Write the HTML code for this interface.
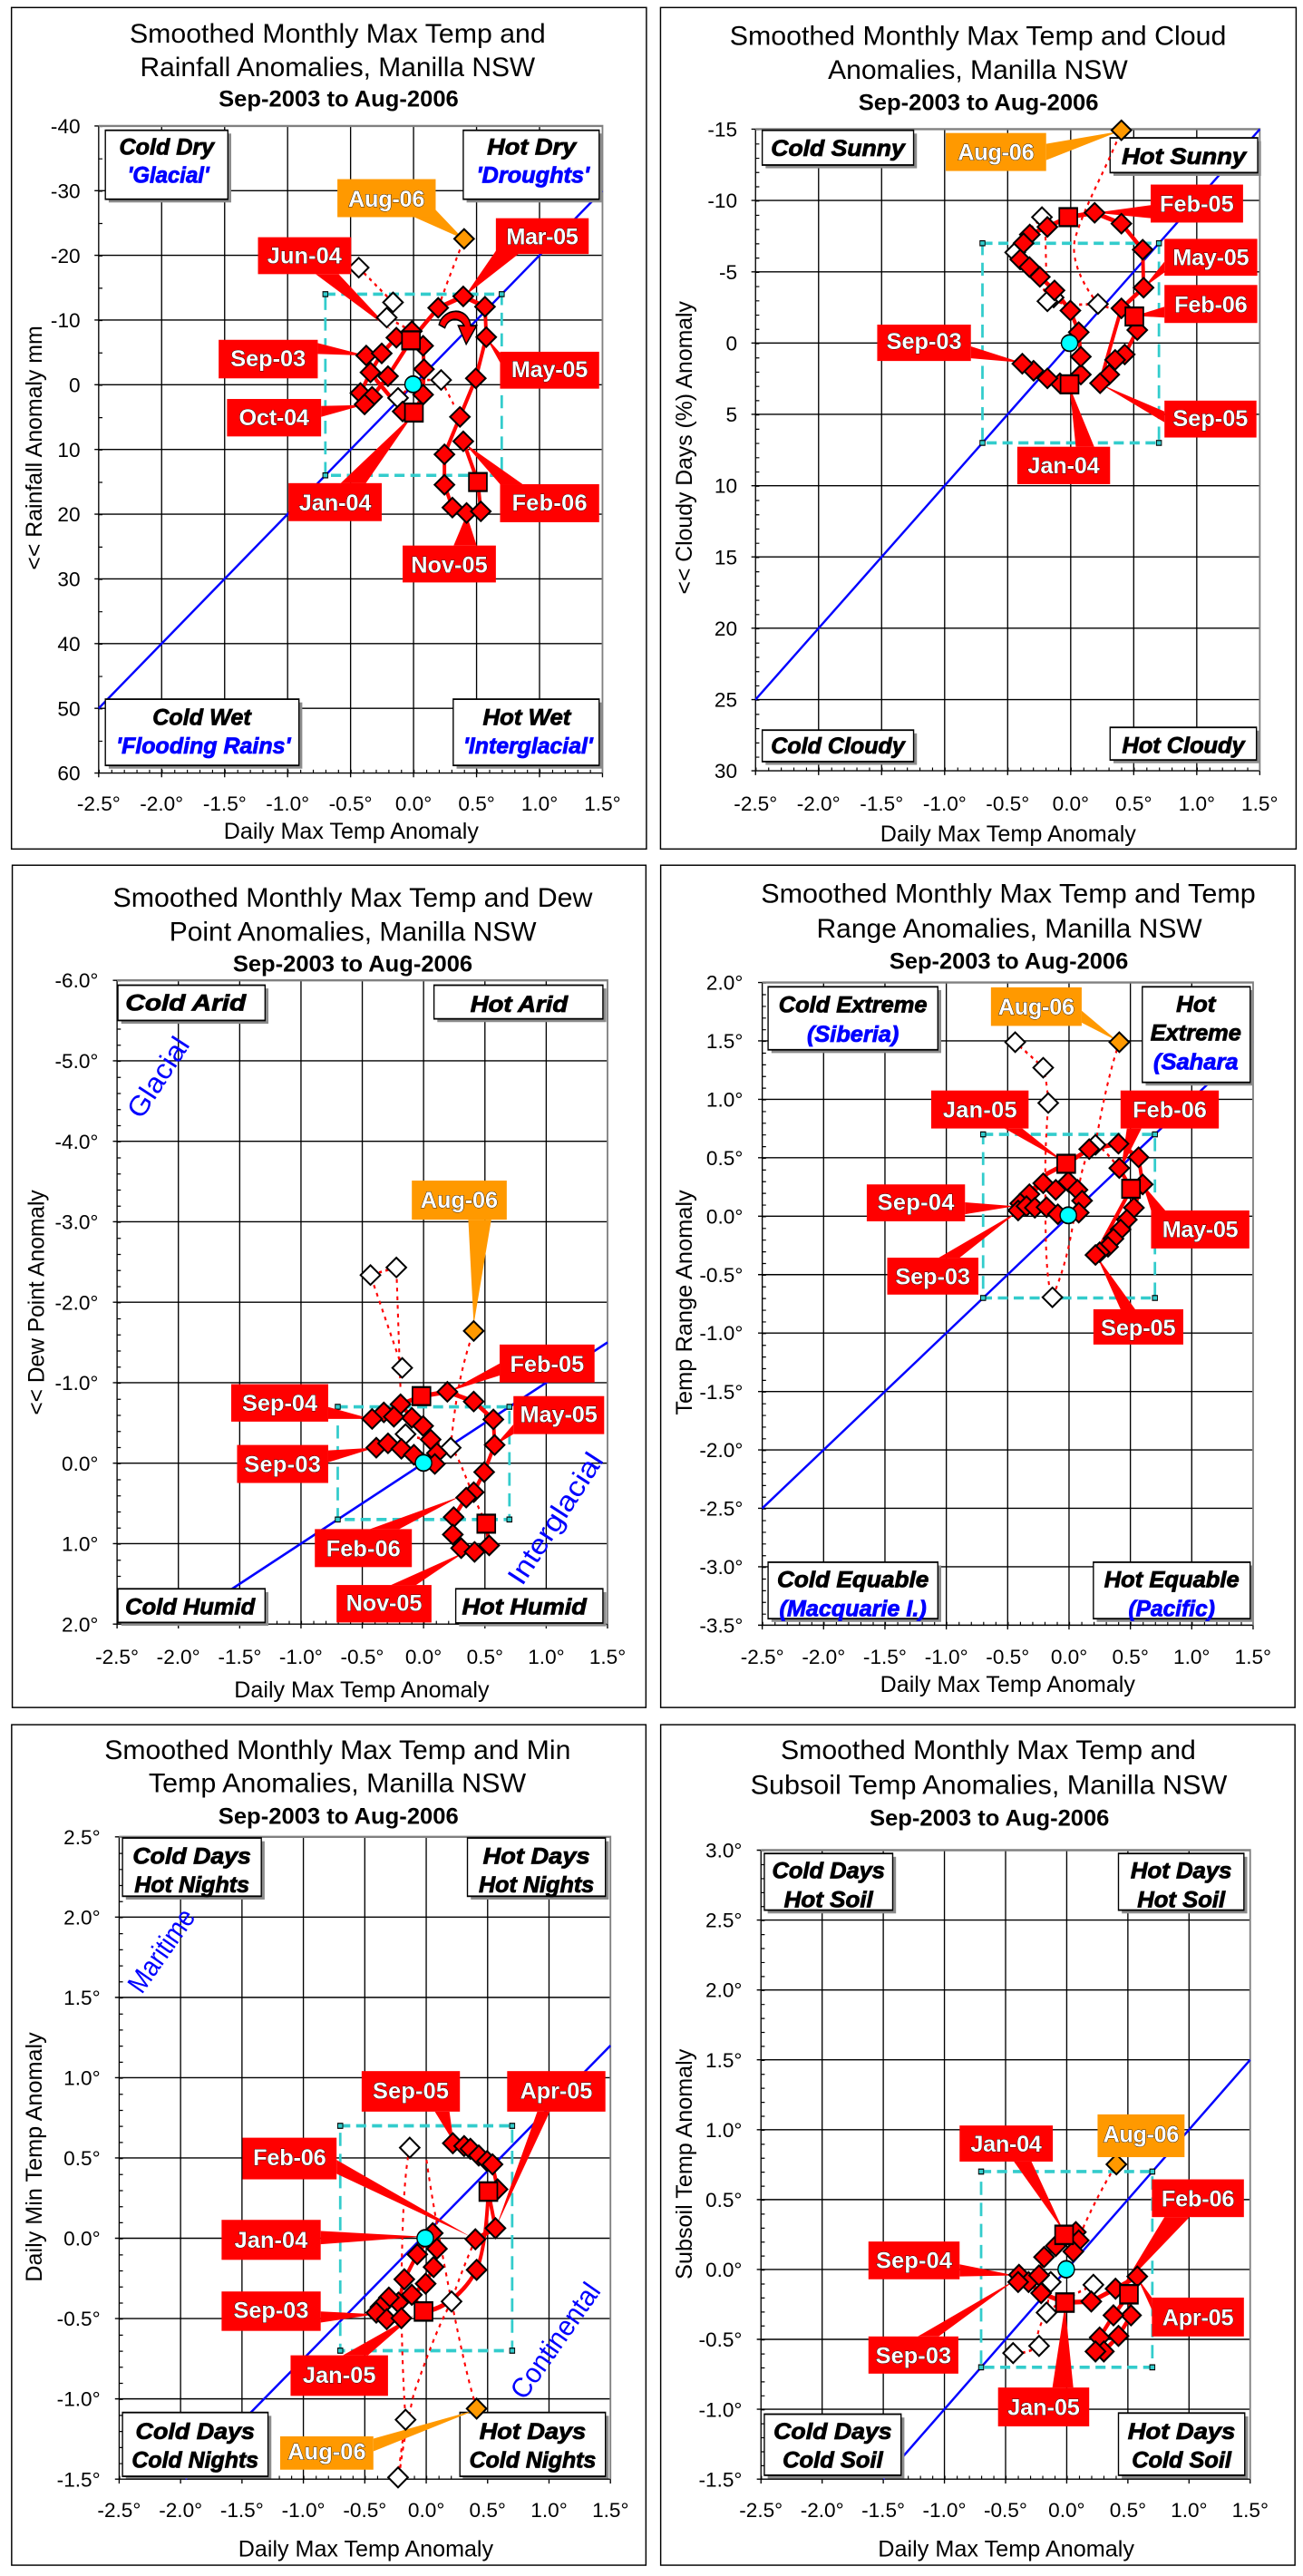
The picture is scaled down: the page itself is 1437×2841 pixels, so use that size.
<!DOCTYPE html>
<html><head><meta charset="utf-8"><title>Smoothed Monthly Anomalies, Manilla NSW</title>
<style>
html,body{margin:0;padding:0;background:#fff}
svg{display:block}
text{font-family:"Liberation Sans",Arial,sans-serif;fill:#000}
.t1{font-size:16.5px}
.t3{font-size:14px;font-weight:bold}
.tk{font-size:12.5px}
.ax{font-size:14px}
.q{font-size:14px;font-weight:bold;font-style:italic;stroke:#000;stroke-width:0.45}
.qb2{fill:#0000ff;stroke:#0000ff}
.c{font-size:14px;font-weight:bold;fill:#fff;stroke:#000;stroke-width:0.45;paint-order:stroke}
.bt{font-size:17px;fill:#0000ff}
.fr{fill:none;stroke:#000;stroke-width:0.8}
.gv{fill:none;stroke:#000;stroke-width:2.9}
.gh{fill:none;stroke:#000;stroke-width:2.3}
.gb{fill:none;stroke:#808080;stroke-width:4}
.mt{stroke:#000;fill:none}
.bl{stroke:#0000ff;stroke-width:4.6;fill:none}
.cb{fill:none;stroke:#33cccc;stroke-width:6;stroke-dasharray:24 14}
.cs{fill:#33cccc;stroke:#000;stroke-width:2}
.qs{fill:#8c8c8c}
.qr{fill:#fff;stroke:#000;stroke-width:3}
.th{fill:none;stroke:#f00;stroke-width:8.5;stroke-linejoin:round;stroke-linecap:round}
.dt{fill:none;stroke:#f00;stroke-width:4.5;stroke-dasharray:7 9}
.pr{fill:#f00}
.po{fill:#ff9900}
.r{fill:#f00;stroke:#000;stroke-width:3.8}
.w{fill:#fff;stroke:#000;stroke-width:3.8}
.o{fill:#ff9900;stroke:#000;stroke-width:3.8}
.cy{fill:#00ffff;stroke:#000;stroke-width:3}
</style></head>
<body>
<svg width="1437" height="2841" viewBox="0 0 795 1571.7" preserveAspectRatio="none" xmlns="http://www.w3.org/2000/svg" xmlns:xlink="http://www.w3.org/1999/xlink">
<defs>
<path id="D" d="M0 -18L23.5 0L0 18L-23.5 0Z"/>
<rect id="S" x="-21.5" y="-16.6" width="43" height="33.2"/>
<ellipse id="C" rx="19.6" ry="15.1"/>
</defs>
<rect x="0" y="0" width="795" height="1571.7" fill="#fff"/>

<!-- Frames -->
<rect class="fr" x="7" y="4.6" width="387.4" height="513.4"/>
<rect class="fr" x="403" y="4.6" width="387.8" height="513.4"/>
<rect class="fr" x="7.5" y="527.9" width="386.6" height="513.9"/>
<rect class="fr" x="403.1" y="527.9" width="387" height="513.9"/>
<rect class="fr" x="7.1" y="1052.3" width="387" height="512.8"/>
<rect class="fr" x="403.1" y="1052.3" width="387" height="512.8"/>

<!-- ============ PANEL 1 ============ -->
<g transform="translate(0,0) scale(0.2551,0.3312)">
<line class="mt" x1="236" y1="1421" x2="1441" y2="1421" stroke-width="6" stroke-dasharray="2.5 27.625"/>
<line class="mt" x1="240.5" y1="232" x2="240.5" y2="1424" stroke-width="9" stroke-dasharray="2 57.6"/>
<path class="gv" d="M386.6 232V1432M537.3 232V1432M687.9 232V1432M838.5 232V1432M989.1 232V1432M1139.8 232V1432M1290.4 232V1432M1441 1424V1432M236 232V1432"/>
<path class="gh" d="M226 351.2H1441M226 470.4H1441M226 589.6H1441M226 708.8H1441M226 828H1441M226 947.2H1441M226 1066.4H1441M226 1185.6H1441M226 1304.8H1441M226 1424H1441M226 232H236"/>
<path class="gb" d="M236 232H1441V1424"/>
<line class="bl" x1="236" y1="1304.8" x2="1441" y2="351.2"/>
<rect class="cb" x="778.2" y="541.9" width="421.8" height="333.8"/>
<rect class="cs" x="772.2" y="537.4" width="12" height="9"/><rect class="cs" x="1194" y="537.4" width="12" height="9"/><rect class="cs" x="772.2" y="871.2" width="12" height="9"/><rect class="cs" x="1194" y="871.2" width="12" height="9"/>
<rect class="qs" x="260" y="246" width="293" height="127"/><rect class="qr" x="252" y="240" width="293" height="127"/>
<rect class="qs" x="1116" y="246" width="325" height="127"/><rect class="qr" x="1108" y="240" width="325" height="127"/>
<rect class="qs" x="260" y="1294" width="463" height="122"/><rect class="qr" x="252" y="1288" width="463" height="122"/>
<rect class="qs" x="1092" y="1294" width="349" height="122"/><rect class="qr" x="1084" y="1288" width="349" height="122"/>
<path class="dt" d="M858 493L905 530L940 557L925 585L985 610M1048 567L1070 520L1110 440M1055 700L1085 745M952 733L1000 700L1055 700"/>
<path class="th" d="M876 655L900 700L963 758L990 760L1012 727L1014 680L1012 637L985 610L948 622L913 651L886 686L862 724L872 745L890 731L928 693L983 627L1048 567L1108 546L1160 565L1163 621L1138 697L1100 768L1063 837L1063 893L1082 935L1116 945L1150 942L1143 888L1108 813"/>
<path d="M1050 598C1060 568 1118 562 1126 600L1140 600L1115 634L1096 600L1110 600C1100 584 1072 584 1064 604Z" fill="#f00" stroke="#000" stroke-width="3"/>
<polygon class="po" points="985,398 1040,385 1108,440"/>
<polygon class="pr" points="1195,452 1240,468 1112,545"/>
<polygon class="pr" points="755,505 810,505 935,608"/>
<polygon class="pr" points="760,632 760,652 876,655"/>
<polygon class="pr" points="1196,650 1196,668 1162,621"/>
<polygon class="pr" points="768,748 768,768 870,746"/>
<polygon class="pr" points="815,890 875,890 990,762"/>
<polygon class="pr" points="1196,892 1250,892 1110,816"/>
<polygon class="pr" points="1085,1005 1140,1005 1116,948"/>
<g class="w"><use href="#D" x="858" y="493"/><use href="#D" x="940" y="557"/><use href="#D" x="925" y="585"/><use href="#D" x="1055" y="700"/><use href="#D" x="952" y="733"/></g>
<g class="r"><use href="#D" x="876" y="655"/><use href="#D" x="913" y="651"/><use href="#D" x="948" y="622"/><use href="#D" x="985" y="610"/><use href="#D" x="1012" y="637"/><use href="#D" x="1014" y="680"/><use href="#D" x="886" y="686"/><use href="#D" x="928" y="693"/><use href="#D" x="862" y="724"/><use href="#D" x="890" y="731"/><use href="#D" x="872" y="745"/><use href="#D" x="963" y="758"/><use href="#D" x="1012" y="727"/><use href="#D" x="1048" y="567"/><use href="#D" x="1108" y="546"/><use href="#D" x="1160" y="565"/><use href="#D" x="1163" y="621"/><use href="#D" x="1138" y="697"/><use href="#D" x="1100" y="768"/><use href="#D" x="1108" y="813"/><use href="#D" x="1063" y="837"/><use href="#D" x="1063" y="893"/><use href="#D" x="1082" y="935"/><use href="#D" x="1116" y="945"/><use href="#D" x="1150" y="942"/>
<use href="#S" x="983" y="627"/><use href="#S" x="990" y="760"/><use href="#S" x="1143" y="888"/></g>
<g class="o"><use href="#D" x="1110" y="440"/></g>
<g class="cy"><use href="#C" x="988" y="708"/></g>
<rect class="po" x="807" y="330" width="235" height="70"/>
<rect class="pr" x="1186" y="402" width="222" height="66"/>
<rect class="pr" x="617" y="437" width="223" height="68"/>
<rect class="pr" x="523" y="626" width="237" height="71"/>
<rect class="pr" x="1196" y="648" width="237" height="68"/>
<rect class="pr" x="543" y="735" width="225" height="69"/>
<rect class="pr" x="690" y="890" width="223" height="70"/>
<rect class="pr" x="1196" y="892" width="237" height="70"/>
<rect class="pr" x="963" y="1005" width="223" height="68"/>
</g>

<!-- ============ PANEL 2 ============ -->
<g transform="translate(396.7,0) scale(0.2551,0.3312)">
<line class="mt" x1="252" y1="1417" x2="1458" y2="1417" stroke-width="6" stroke-dasharray="2.5 27.65"/>
<line class="mt" x1="256.5" y1="238" x2="256.5" y2="1420" stroke-width="9" stroke-dasharray="2 24.27"/>
<path class="gv" d="M402.75 238V1428M553.5 238V1428M704.25 238V1428M855 238V1428M1005.75 238V1428M1156.5 238V1428M1307.25 238V1428M1458 1420V1428M252 238V1428"/>
<path class="gh" d="M242 369.3H1458M242 500.7H1458M242 632H1458M242 763.3H1458M242 894.7H1458M242 1026H1458M242 1157.3H1458M242 1288.7H1458M242 1420H1458M242 238H252"/>
<path class="gb" d="M252 238H1458V1420"/>
<line class="bl" x1="252" y1="1288.7" x2="1458" y2="238"/>
<rect class="cb" x="794.7" y="448.1" width="422.1" height="367.8"/>
<rect class="cs" x="788.7" y="443.6" width="12" height="9"/><rect class="cs" x="1210.8" y="443.6" width="12" height="9"/><rect class="cs" x="788.7" y="811.4" width="12" height="9"/><rect class="cs" x="1210.8" y="811.4" width="12" height="9"/>
<rect class="qs" x="276" y="246" width="362" height="64"/><rect class="qr" x="268" y="240" width="362" height="64"/>
<rect class="qs" x="1108" y="260" width="353" height="64"/><rect class="qr" x="1100" y="254" width="353" height="64"/>
<rect class="qs" x="276" y="1351" width="362" height="58"/><rect class="qr" x="268" y="1345" width="362" height="58"/>
<rect class="qs" x="1108" y="1346" width="350" height="60"/><rect class="qr" x="1100" y="1340" width="350" height="60"/>
<path class="dt" d="M1158 583L1071 560L1000 562L958 552L920 510L873 465L905 425L937 400M1071 560C1030 520 1000 470 1020 430C1045 370 1085 320 1127 240M945 420L948 530"/>
<path class="th" d="M890 670L917 683L950 697L980 706L1003 708L1030 690L1030 657L1025 612L1005 572L967 535L932 510L907 492L885 478L893 448L908 432L950 418L1000 400L1063 392L1127 412L1178 460L1180 530L1127 568L1100 640L1076 706L1098 690L1112 663L1135 653L1165 608L1158 583"/>
<polygon class="po" points="947,265 947,295 1122,242"/>
<polygon class="pr" points="1197,378 1197,402 1065,392"/>
<polygon class="pr" points="1230,482 1230,502 1180,530"/>
<polygon class="pr" points="1230,565 1230,585 1160,582"/>
<polygon class="pr" points="767,638 767,660 888,668"/>
<polygon class="pr" points="1230,758 1230,778 1078,708"/>
<polygon class="pr" points="1018,823 1062,823 1003,712"/>
<g class="w"><use href="#D" x="937" y="400"/><use href="#D" x="873" y="465"/><use href="#D" x="965" y="548"/><use href="#D" x="950" y="555"/><use href="#D" x="1071" y="560"/></g>
<g class="r"><use href="#D" x="950" y="418"/><use href="#D" x="1063" y="392"/><use href="#D" x="1127" y="412"/><use href="#D" x="1178" y="460"/><use href="#D" x="1180" y="530"/><use href="#D" x="1127" y="568"/><use href="#D" x="1165" y="608"/><use href="#D" x="1135" y="653"/><use href="#D" x="1112" y="663"/><use href="#D" x="1098" y="690"/><use href="#D" x="1076" y="706"/><use href="#D" x="1030" y="690"/><use href="#D" x="1030" y="657"/><use href="#D" x="1025" y="612"/><use href="#D" x="1005" y="572"/><use href="#D" x="980" y="706"/><use href="#D" x="950" y="697"/><use href="#D" x="917" y="683"/><use href="#D" x="890" y="670"/><use href="#D" x="908" y="432"/><use href="#D" x="893" y="448"/><use href="#D" x="885" y="478"/><use href="#D" x="907" y="492"/><use href="#D" x="932" y="510"/><use href="#D" x="967" y="535"/>
<use href="#S" x="1000" y="400"/><use href="#S" x="1158" y="583"/><use href="#S" x="1003" y="708"/></g>
<g class="o"><use href="#D" x="1127" y="240"/></g>
<g class="cy"><use href="#C" x="1003" y="632"/></g>
<rect class="po" x="707" y="245" width="240" height="70"/>
<rect class="pr" x="1197" y="340" width="221" height="70"/>
<rect class="pr" x="1230" y="440" width="222" height="68"/>
<rect class="pr" x="1230" y="525" width="222" height="70"/>
<rect class="pr" x="543" y="598" width="224" height="67"/>
<rect class="pr" x="1230" y="738" width="220" height="68"/>
<rect class="pr" x="878" y="823" width="222" height="69"/>
</g>

<!-- ============ PANEL 3 ============ -->
<g transform="translate(0,517.3) scale(0.2551,0.3312)">
<line class="mt" x1="280" y1="1427" x2="1453" y2="1427" stroke-width="6" stroke-dasharray="2.5 26.825"/>
<line class="mt" x1="284.5" y1="244" x2="284.5" y2="1430" stroke-width="9" stroke-dasharray="2 27.65"/>
<path class="gv" d="M426.6 244V1438M573.3 244V1438M719.9 244V1438M866.5 244V1438M1013.1 244V1438M1159.8 244V1438M1306.4 244V1438M1453 1430V1438M280 244V1438"/>
<path class="gh" d="M270 392.25H1453M270 540.5H1453M270 688.75H1453M270 837H1453M270 985.25H1453M270 1133.5H1453M270 1281.75H1453M270 1430H1453M270 244H280"/>
<path class="gb" d="M280 244H1453V1430"/>
<line class="bl" x1="426.6" y1="1430" x2="1453" y2="911.1"/>
<rect class="cb" x="807.8" y="1029.7" width="410.6" height="207.6"/>
<rect class="cs" x="801.8" y="1025.2" width="12" height="9"/><rect class="cs" x="1212.4" y="1025.2" width="12" height="9"/><rect class="cs" x="801.8" y="1232.8" width="12" height="9"/><rect class="cs" x="1212.4" y="1232.8" width="12" height="9"/>
<rect class="qs" x="290" y="259" width="352" height="65"/><rect class="qr" x="282" y="253" width="352" height="65"/>
<rect class="qs" x="1046" y="259" width="404" height="62"/><rect class="qr" x="1038" y="253" width="404" height="62"/>
<rect class="qs" x="290" y="1371" width="352" height="62"/><rect class="qr" x="282" y="1365" width="352" height="62"/>
<rect class="qs" x="1098" y="1371" width="352" height="63"/><rect class="qr" x="1090" y="1365" width="352" height="63"/>
<path class="dt" d="M1163 1245C1120 1180 1100 1120 1078 1105C1050 1095 1010 1090 970 1080M962 958L886 787L948 773L958 1000M1078 1105C1090 1000 1110 940 1133 890"/>
<path class="th" d="M900 1105L928 1097L960 1107L990 1118L1040 1135L1045 1115L1030 1090L1012 1065L985 1050L958 1025L942 1048L918 1040L890 1052L960 1025L1008 1010L1070 1002L1133 1020L1180 1053L1183 1100L1158 1150L1133 1187L1115 1197L1085 1233L1083 1265L1103 1290L1135 1297L1170 1285L1163 1245"/>
<polygon class="po" points="1120,685 1175,685 1133,878"/>
<polygon class="pr" points="1195,950 1195,972 1072,1002"/>
<polygon class="pr" points="785,1030 785,1052 888,1052"/>
<polygon class="pr" points="1228,1062 1228,1080 1185,1100"/>
<polygon class="pr" points="785,1110 785,1132 897,1105"/>
<polygon class="pr" points="885,1255 955,1255 1100,1195"/>
<polygon class="pr" points="935,1358 995,1358 1112,1297"/>
<g class="w"><use href="#D" x="886" y="787"/><use href="#D" x="948" y="773"/><use href="#D" x="962" y="958"/><use href="#D" x="970" y="1080"/><use href="#D" x="1078" y="1105"/></g>
<g class="r"><use href="#D" x="1070" y="1002"/><use href="#D" x="1133" y="1020"/><use href="#D" x="1180" y="1053"/><use href="#D" x="1183" y="1100"/><use href="#D" x="1158" y="1150"/><use href="#D" x="1133" y="1187"/><use href="#D" x="1115" y="1197"/><use href="#D" x="1085" y="1233"/><use href="#D" x="1083" y="1265"/><use href="#D" x="1103" y="1290"/><use href="#D" x="1135" y="1297"/><use href="#D" x="1170" y="1285"/><use href="#D" x="958" y="1025"/><use href="#D" x="985" y="1050"/><use href="#D" x="1012" y="1065"/><use href="#D" x="1030" y="1090"/><use href="#D" x="1045" y="1115"/><use href="#D" x="1040" y="1135"/><use href="#D" x="918" y="1040"/><use href="#D" x="890" y="1052"/><use href="#D" x="942" y="1048"/><use href="#D" x="900" y="1105"/><use href="#D" x="928" y="1097"/><use href="#D" x="960" y="1107"/><use href="#D" x="990" y="1118"/>
<use href="#S" x="1008" y="1010"/><use href="#S" x="1163" y="1245"/></g>
<g class="o"><use href="#D" x="1133" y="890"/></g>
<g class="cy"><use href="#C" x="1013" y="1133"/></g>
<rect class="po" x="985" y="613" width="227" height="72"/>
<rect class="pr" x="1195" y="915" width="227" height="70"/>
<rect class="pr" x="553" y="988" width="232" height="69"/>
<rect class="pr" x="1228" y="1010" width="217" height="70"/>
<rect class="pr" x="567" y="1100" width="218" height="70"/>
<rect class="pr" x="753" y="1255" width="232" height="70"/>
<rect class="pr" x="805" y="1358" width="227" height="69"/>
</g>

<!-- ============ PANEL 4 ============ -->
<g transform="translate(396.7,517.3) scale(0.2551,0.3312)">
<line class="mt" x1="268" y1="1429" x2="1442" y2="1429" stroke-width="6" stroke-dasharray="2.5 26.85"/>
<line class="mt" x1="272.5" y1="248" x2="272.5" y2="1432" stroke-width="9" stroke-dasharray="2 19.53"/>
<path class="gv" d="M414.75 248V1440M561.5 248V1440M708.25 248V1440M855 248V1440M1001.75 248V1440M1148.5 248V1440M1295.25 248V1440M1442 1432V1440M268 248V1440"/>
<path class="gh" d="M258 355.6H1442M258 463.3H1442M258 570.9H1442M258 678.5H1442M258 786.2H1442M258 893.8H1442M258 1001.5H1442M258 1109.1H1442M258 1216.7H1442M258 1324.4H1442M258 1432H1442M258 248H268"/>
<path class="gb" d="M268 248H1442V1432"/>
<line class="bl" x1="268" y1="1216.7" x2="1442" y2="355.6"/>
<rect class="cb" x="796.3" y="527.8" width="410.9" height="301.4"/>
<rect class="cs" x="790.3" y="523.3" width="12" height="9"/><rect class="cs" x="1201.2" y="523.3" width="12" height="9"/><rect class="cs" x="790.3" y="824.7" width="12" height="9"/><rect class="cs" x="1201.2" y="824.7" width="12" height="9"/>
<rect class="qs" x="290" y="262" width="406" height="116"/><rect class="qr" x="282" y="256" width="406" height="116"/>
<rect class="qs" x="1185" y="262" width="258" height="176"/><rect class="qr" x="1177" y="256" width="258" height="176"/>
<rect class="qs" x="290" y="1322" width="406" height="104"/><rect class="qr" x="282" y="1316" width="406" height="104"/>
<rect class="qs" x="1068" y="1322" width="375" height="104"/><rect class="qr" x="1060" y="1316" width="375" height="104"/>
<path class="dt" d="M1122 590C1100 570 1080 550 1065 547C1040 560 1030 600 1020 650C1010 700 1000 760 962 828C945 800 945 700 945 600C945 540 950 500 952 470C950 440 945 420 940 405C920 390 890 370 873 358M1065 547C1075 500 1095 420 1122 358"/>
<path class="th" d="M880 668L900 660L920 663L948 662L975 675L1025 672L1033 650L1022 630L1000 615L970 630L940 618L907 638L885 655L950 600L995 582L1050 555L1120 545L1168 570L1178 620L1157 663L1140 685L1125 703L1108 720L1095 735L1075 745L1065 750L1150 628L1122 590"/>
<polygon class="po" points="1032,300 1032,322 1118,356"/>
<polygon class="pr" points="848,517 890,517 993,580"/>
<polygon class="pr" points="1140,517 1175,517 1126,592"/>
<polygon class="pr" points="753,653 753,675 872,660"/>
<polygon class="pr" points="1198,668 1232,668 1178,620"/>
<polygon class="pr" points="690,755 740,755 880,670"/>
<polygon class="pr" points="1125,850 1160,850 1068,752"/>
<g class="w"><use href="#D" x="873" y="358"/><use href="#D" x="940" y="405"/><use href="#D" x="952" y="470"/><use href="#D" x="1065" y="547"/><use href="#D" x="962" y="828"/></g>
<g class="r"><use href="#D" x="1050" y="555"/><use href="#D" x="1120" y="545"/><use href="#D" x="1168" y="570"/><use href="#D" x="1122" y="590"/><use href="#D" x="1178" y="620"/><use href="#D" x="1157" y="663"/><use href="#D" x="1140" y="685"/><use href="#D" x="1125" y="703"/><use href="#D" x="1108" y="720"/><use href="#D" x="1095" y="735"/><use href="#D" x="1075" y="745"/><use href="#D" x="1065" y="750"/><use href="#D" x="940" y="618"/><use href="#D" x="970" y="630"/><use href="#D" x="1000" y="615"/><use href="#D" x="1022" y="630"/><use href="#D" x="1033" y="650"/><use href="#D" x="1025" y="672"/><use href="#D" x="907" y="638"/><use href="#D" x="885" y="655"/><use href="#D" x="880" y="668"/><use href="#D" x="900" y="660"/><use href="#D" x="920" y="663"/><use href="#D" x="948" y="662"/><use href="#D" x="975" y="675"/>
<use href="#S" x="995" y="582"/><use href="#S" x="1150" y="628"/></g>
<g class="o"><use href="#D" x="1122" y="358"/></g>
<g class="cy"><use href="#C" x="1000" y="677"/></g>
<rect class="po" x="815" y="257" width="217" height="71"/>
<rect class="pr" x="672" y="447" width="233" height="70"/>
<rect class="pr" x="1125" y="447" width="235" height="70"/>
<rect class="pr" x="518" y="620" width="235" height="68"/>
<rect class="pr" x="1198" y="668" width="235" height="70"/>
<rect class="pr" x="567" y="755" width="218" height="68"/>
<rect class="pr" x="1060" y="850" width="215" height="65"/>
</g>

<!-- ============ PANEL 5 ============ -->
<g transform="translate(0,1040.1) scale(0.2551,0.3387)">
<line class="mt" x1="285" y1="1392" x2="1460" y2="1392" stroke-width="6" stroke-dasharray="2.5 26.875"/>
<line class="mt" x1="289.5" y1="238" x2="289.5" y2="1395" stroke-width="9" stroke-dasharray="2 26.925"/>
<path class="gv" d="M431.9 238V1403M578.75 238V1403M725.6 238V1403M872.5 238V1403M1019.4 238V1403M1166.25 238V1403M1313.1 238V1403M1460 1395V1403M285 238V1403"/>
<path class="gh" d="M275 382.6H1460M275 527.25H1460M275 671.9H1460M275 816.5H1460M275 961.1H1460M275 1105.75H1460M275 1250.4H1460M275 1395H1460M275 238H285"/>
<path class="gb" d="M285 238H1460V1395"/>
<line class="bl" x1="443.6" y1="1395" x2="1460" y2="614"/>
<rect class="cb" x="813.8" y="758.6" width="411.2" height="405"/>
<rect class="cs" x="807.8" y="754.1" width="12" height="9"/><rect class="cs" x="1219" y="754.1" width="12" height="9"/><rect class="cs" x="807.8" y="1159.1" width="12" height="9"/><rect class="cs" x="1219" y="1159.1" width="12" height="9"/>
<rect class="qs" x="301" y="246" width="332" height="105"/><rect class="qr" x="293" y="240" width="332" height="105"/>
<rect class="qs" x="1126" y="246" width="330" height="105"/><rect class="qr" x="1118" y="240" width="330" height="105"/>
<rect class="qs" x="301" y="1281" width="348" height="113"/><rect class="qr" x="293" y="1275" width="348" height="115"/>
<rect class="qs" x="1108" y="1281" width="348" height="113"/><rect class="qr" x="1100" y="1275" width="348" height="115"/>
<path class="dt" d="M1137 963C1110 1010 1090 1050 1080 1075C1100 1150 1120 1220 1140 1268M980 798C965 850 962 950 960 1050C960 1150 965 1230 970 1288C962 1330 955 1370 952 1392M1020 820C1035 900 1060 1000 1080 1075M1080 1075C1040 1130 1010 1200 990 1240C975 1290 960 1350 955 1390"/>
<path class="th" d="M900 1095L925 1107L960 1105L953 1077L967 1035L998 990L1035 952L1045 980L1037 1013L1018 1043L985 1063L1013 1093C1060 1090 1110 1060 1140 1018C1160 980 1165 920 1168 877L1190 873L1178 828L1165 822L1145 812L1125 800L1110 795L1083 790M1168 877L1185 943L1137 963"/>
<polygon class="pr" points="1040,733 1075,733 1085,788"/>
<polygon class="pr" points="1285,733 1315,733 1187,940"/>
<polygon class="pr" points="805,820 805,845 1125,958"/>
<polygon class="pr" points="767,948 767,972 1010,958"/>
<polygon class="pr" points="767,1093 767,1113 900,1098"/>
<polygon class="pr" points="820,1172 880,1172 990,1100"/>
<polygon class="po" points="893,1322 893,1345 1140,1270"/>
<g class="w"><use href="#D" x="980" y="798"/><use href="#D" x="970" y="1288"/><use href="#D" x="952" y="1392"/><use href="#D" x="1080" y="1075"/></g>
<g class="r"><use href="#D" x="1083" y="790"/><use href="#D" x="1110" y="795"/><use href="#D" x="1125" y="800"/><use href="#D" x="1145" y="812"/><use href="#D" x="1165" y="822"/><use href="#D" x="1178" y="828"/><use href="#D" x="1190" y="873"/><use href="#D" x="1185" y="943"/><use href="#D" x="1137" y="963"/><use href="#D" x="1140" y="1018"/><use href="#D" x="1035" y="952"/><use href="#D" x="1045" y="980"/><use href="#D" x="1037" y="1013"/><use href="#D" x="1018" y="1043"/><use href="#D" x="998" y="990"/><use href="#D" x="967" y="1035"/><use href="#D" x="985" y="1063"/><use href="#D" x="953" y="1077"/><use href="#D" x="930" y="1068"/><use href="#D" x="910" y="1085"/><use href="#D" x="900" y="1095"/><use href="#D" x="925" y="1107"/><use href="#D" x="960" y="1105"/>
<use href="#S" x="1168" y="877"/><use href="#S" x="1013" y="1093"/></g>
<g class="o"><use href="#D" x="1140" y="1268"/></g>
<g class="cy"><use href="#C" x="1017" y="961"/></g>
<rect class="pr" x="865" y="660" width="235" height="73"/>
<rect class="pr" x="1213" y="660" width="235" height="73"/>
<rect class="pr" x="580" y="780" width="225" height="75"/>
<rect class="pr" x="530" y="928" width="237" height="72"/>
<rect class="pr" x="530" y="1057" width="237" height="71"/>
<rect class="pr" x="695" y="1172" width="233" height="73"/>
<rect class="po" x="670" y="1318" width="223" height="60"/>
</g>

<!-- ============ PANEL 6 ============ -->
<g transform="translate(396.7,1040.1) scale(0.2551,0.3387)">
<line class="mt" x1="265" y1="1392" x2="1435" y2="1392" stroke-width="6" stroke-dasharray="2.5 26.75"/>
<line class="mt" x1="269.5" y1="262" x2="269.5" y2="1395" stroke-width="9" stroke-dasharray="2 23.18"/>
<path class="gv" d="M411.25 262V1403M557.5 262V1403M703.75 262V1403M850 262V1403M996.25 262V1403M1142.5 262V1403M1288.75 262V1403M1435 1395V1403M265 262V1403"/>
<path class="gh" d="M255 387.9H1435M255 513.8H1435M255 639.7H1435M255 765.6H1435M255 891.5H1435M255 1017.3H1435M255 1143.2H1435M255 1269.1H1435M255 1395H1435M255 262H265"/>
<path class="gb" d="M265 262H1435V1395"/>
<line class="bl" x1="557.5" y1="1395" x2="1435" y2="639.6"/>
<rect class="cb" x="791.5" y="841" width="409.5" height="352.6"/>
<rect class="cs" x="785.5" y="836.5" width="12" height="9"/><rect class="cs" x="1195" y="836.5" width="12" height="9"/><rect class="cs" x="785.5" y="1189.1" width="12" height="9"/><rect class="cs" x="1195" y="1189.1" width="12" height="9"/>
<rect class="qs" x="281" y="274" width="307" height="102"/><rect class="qr" x="273" y="268" width="307" height="102"/>
<rect class="qs" x="1128" y="274" width="300" height="102"/><rect class="qr" x="1120" y="268" width="300" height="102"/>
<rect class="qs" x="281" y="1284" width="327" height="110"/><rect class="qr" x="273" y="1278" width="327" height="110"/>
<rect class="qs" x="1128" y="1282" width="302" height="112"/><rect class="qr" x="1120" y="1276" width="302" height="112"/>
<path class="dt" d="M1012 985C1040 930 1080 870 1115 828M1060 1045C1020 1060 980 1075 948 1095C930 1120 920 1140 930 1155C900 1170 880 1168 868 1168M958 1040L948 1095"/>
<path class="th" d="M880 1040L905 1040L935 1060L992 1077L1055 1075L1113 1052L1165 1030M1145 1062L1150 1100L1120 1137L1085 1165L1065 1165L1075 1140L1108 1100L1145 1062M882 1027L930 1028L942 995L970 975L990 955L1018 950L1025 965L1012 985"/>
<polygon class="pr" points="870,823 912,823 990,950"/>
<polygon class="pr" points="1230,923 1290,923 1128,1050"/>
<polygon class="pr" points="740,1008 740,1030 872,1028"/>
<polygon class="pr" points="1200,1068 1200,1090 1165,1032"/>
<polygon class="pr" points="640,1138 690,1138 876,1035"/>
<polygon class="pr" points="962,1230 1012,1230 992,1082"/>
<g class="w"><use href="#D" x="868" y="1168"/><use href="#D" x="930" y="1155"/><use href="#D" x="948" y="1095"/><use href="#D" x="958" y="1040"/><use href="#D" x="1060" y="1045"/></g>
<g class="r"><use href="#D" x="1018" y="950"/><use href="#D" x="1025" y="965"/><use href="#D" x="1012" y="985"/><use href="#D" x="970" y="975"/><use href="#D" x="942" y="995"/><use href="#D" x="882" y="1027"/><use href="#D" x="905" y="1040"/><use href="#D" x="930" y="1028"/><use href="#D" x="935" y="1060"/><use href="#D" x="880" y="1040"/><use href="#D" x="1055" y="1075"/><use href="#D" x="1113" y="1052"/><use href="#D" x="1165" y="1030"/><use href="#D" x="1150" y="1100"/><use href="#D" x="1108" y="1100"/><use href="#D" x="1120" y="1137"/><use href="#D" x="1075" y="1140"/><use href="#D" x="1085" y="1165"/><use href="#D" x="1065" y="1165"/>
<use href="#S" x="990" y="955"/><use href="#S" x="992" y="1077"/><use href="#S" x="1145" y="1062"/></g>
<g class="o"><use href="#D" x="1115" y="828"/></g>
<g class="cy"><use href="#C" x="995" y="1017"/></g>
<rect class="pr" x="740" y="758" width="223" height="65"/>
<rect class="po" x="1070" y="738" width="208" height="77"/>
<rect class="pr" x="1200" y="855" width="220" height="68"/>
<rect class="pr" x="522" y="967" width="218" height="68"/>
<rect class="pr" x="1200" y="1068" width="220" height="70"/>
<rect class="pr" x="522" y="1138" width="215" height="67"/>
<rect class="pr" x="832" y="1230" width="218" height="70"/>
</g>

<!-- ================= TEXT ================= -->
<g text-anchor="middle">
<!-- Panel 1 -->
<text class="t1" x="206" y="25.9" textLength="253.8" lengthAdjust="spacingAndGlyphs">Smoothed Monthly Max Temp and</text>
<text class="t1" x="206" y="46.4" textLength="241" lengthAdjust="spacingAndGlyphs">Rainfall Anomalies, Manilla NSW</text>
<text class="t3" x="206.6" y="65" textLength="146.4" lengthAdjust="spacingAndGlyphs">Sep-2003 to Aug-2006</text>
<text class="ax" x="214.3" y="511.7" textLength="155.5" lengthAdjust="spacingAndGlyphs">Daily Max Temp Anomaly</text>
<text class="ax" transform="translate(25.4,273.3) rotate(-90)" textLength="149" lengthAdjust="spacingAndGlyphs">&lt;&lt; Rainfall Anomaly mm</text>
<g class="tk"><text x="60.2" y="494.7">-2.5°</text><text x="98.6" y="494.7">-2.0°</text><text x="137.1" y="494.7">-1.5°</text><text x="175.5" y="494.7">-1.0°</text><text x="213.9" y="494.7">-0.5°</text><text x="252.3" y="494.7">0.0°</text><text x="290.8" y="494.7">0.5°</text><text x="329.2" y="494.7">1.0°</text><text x="367.6" y="494.7">1.5°</text></g>
<g class="tk" text-anchor="end"><text x="49" y="81.3">-40</text><text x="49" y="120.8">-30</text><text x="49" y="160.3">-20</text><text x="49" y="199.8">-10</text><text x="49" y="239.3">0</text><text x="49" y="278.7">10</text><text x="49" y="318.2">20</text><text x="49" y="357.7">30</text><text x="49" y="397.2">40</text><text x="49" y="436.7">50</text><text x="49" y="476.1">60</text></g>
<text class="q" x="101.7" y="94.4" textLength="57.9" lengthAdjust="spacingAndGlyphs">Cold Dry</text>
<text class="q qb2" x="102.7" y="111.6" textLength="49.8" lengthAdjust="spacingAndGlyphs">'Glacial'</text>
<text class="q" x="324.3" y="94.4" textLength="54.3" lengthAdjust="spacingAndGlyphs">Hot  Dry</text>
<text class="q qb2" x="325.2" y="111.6" textLength="68.9" lengthAdjust="spacingAndGlyphs">'Droughts'</text>
<text class="q" x="123.1" y="442.2" textLength="60" lengthAdjust="spacingAndGlyphs">Cold Wet</text>
<text class="q qb2" x="124.1" y="459.7" textLength="106.4" lengthAdjust="spacingAndGlyphs">'Flooding Rains'</text>
<text class="q" x="321.4" y="442.2" textLength="53.6" lengthAdjust="spacingAndGlyphs">Hot Wet</text>
<text class="q qb2" x="322.2" y="459.7" textLength="79" lengthAdjust="spacingAndGlyphs">'Interglacial'</text>
<text class="c" x="235.8" y="126" textLength="46.7">Aug-06</text>
<text class="c" x="330.9" y="149.1" textLength="43.9">Mar-05</text>
<text class="c" x="185.8" y="160.7" textLength="45.4">Jun-04</text>
<text class="c" x="163.6" y="223.6" textLength="45.9">Sep-03</text>
<text class="c" x="335.3" y="230.2" textLength="46.7">May-05</text>
<text class="c" x="167.2" y="259.4" textLength="42.9">Oct-04</text>
<text class="c" x="204.5" y="311.4" textLength="44.1">Jan-04</text>
<text class="c" x="335.3" y="311.4" textLength="45.9">Feb-06</text>
<text class="c" x="274.1" y="349.4" textLength="46.7">Nov-05</text>

<!-- Panel 2 -->
<text class="t1" x="596.7" y="27.5" textLength="303" lengthAdjust="spacingAndGlyphs">Smoothed Monthly Max Temp and Cloud</text>
<text class="t1" x="596.6" y="48" textLength="182.9" lengthAdjust="spacingAndGlyphs">Anomalies, Manilla NSW</text>
<text class="t3" x="597" y="67.3" textLength="146.5" lengthAdjust="spacingAndGlyphs">Sep-2003 to Aug-2006</text>
<text class="ax" x="615.1" y="513.4" textLength="156.1" lengthAdjust="spacingAndGlyphs">Daily Max Temp Anomaly</text>
<text class="ax" transform="translate(422.1,273.2) rotate(-90)" textLength="178.9" lengthAdjust="spacingAndGlyphs">&lt;&lt; Cloudy Days (%) Anomaly</text>
<g class="tk"><text x="461" y="494.7">-2.5°</text><text x="499.4" y="494.7">-2.0°</text><text x="537.9" y="494.7">-1.5°</text><text x="576.4" y="494.7">-1.0°</text><text x="614.8" y="494.7">-0.5°</text><text x="653.3" y="494.7">0.0°</text><text x="691.7" y="494.7">0.5°</text><text x="730.2" y="494.7">1.0°</text><text x="768.6" y="494.7">1.5°</text></g>
<g class="tk" text-anchor="end"><text x="449.8" y="83.3">-15</text><text x="449.8" y="126.8">-10</text><text x="449.8" y="170.3">-5</text><text x="449.8" y="213.8">0</text><text x="449.8" y="257.3">5</text><text x="449.8" y="300.8">10</text><text x="449.8" y="344.3">15</text><text x="449.8" y="387.8">20</text><text x="449.8" y="431.3">25</text><text x="449.8" y="474.8">30</text></g>
<text class="q" x="511.2" y="95.1" textLength="81.6" lengthAdjust="spacingAndGlyphs">Cold  Sunny</text>
<text class="q" x="722.3" y="100.1" textLength="75.8" lengthAdjust="spacingAndGlyphs">Hot  Sunny</text>
<text class="q" x="511.2" y="459.7" textLength="81.6" lengthAdjust="spacingAndGlyphs">Cold Cloudy</text>
<text class="q" x="722" y="459.4" textLength="74.7" lengthAdjust="spacingAndGlyphs">Hot Cloudy</text>
<text class="c" x="607.7" y="97.7" textLength="46.7">Aug-06</text>
<text class="c" x="730.2" y="129.2" textLength="45.2">Feb-05</text>
<text class="c" x="738.8" y="161.7" textLength="46.7">May-05</text>
<text class="c" x="738.8" y="190.5" textLength="44.6">Feb-06</text>
<text class="c" x="563.8" y="213" textLength="45.9">Sep-03</text>
<text class="c" x="738.5" y="260" textLength="45.9">Sep-05</text>
<text class="c" x="649" y="288.8" textLength="43.9">Jan-04</text>

<!-- Panel 3 -->
<text class="t1" x="215.2" y="553.1" textLength="292.6" lengthAdjust="spacingAndGlyphs">Smoothed Monthly Max Temp and Dew</text>
<text class="t1" x="215.3" y="574" textLength="224" lengthAdjust="spacingAndGlyphs">Point Anomalies, Manilla NSW</text>
<text class="t3" x="215.2" y="592.8" textLength="146.2" lengthAdjust="spacingAndGlyphs">Sep-2003 to Aug-2006</text>
<text class="ax" x="220.7" y="1035.7" textLength="155.6" lengthAdjust="spacingAndGlyphs">Daily Max Temp Anomaly</text>
<text class="ax" transform="translate(26.7,794.7) rotate(-90)" textLength="137.4" lengthAdjust="spacingAndGlyphs">&lt;&lt; Dew Point Anomaly</text>
<g class="tk"><text x="71.4" y="1015.3">-2.5°</text><text x="108.8" y="1015.3">-2.0°</text><text x="146.3" y="1015.3">-1.5°</text><text x="183.6" y="1015.3">-1.0°</text><text x="221" y="1015.3">-0.5°</text><text x="258.4" y="1015.3">0.0°</text><text x="295.9" y="1015.3">0.5°</text><text x="333.3" y="1015.3">1.0°</text><text x="370.7" y="1015.3">1.5°</text></g>
<g class="tk" text-anchor="end"><text x="60" y="602.6">-6.0°</text><text x="60" y="651.7">-5.0°</text><text x="60" y="700.8">-4.0°</text><text x="60" y="749.9">-3.0°</text><text x="60" y="799">-2.0°</text><text x="60" y="848.1">-1.0°</text><text x="60" y="897.2">0.0°</text><text x="60" y="946.3">1.0°</text><text x="60" y="995.4">2.0°</text></g>
<text class="q" x="113.3" y="616.7" textLength="73.5" lengthAdjust="spacingAndGlyphs">Cold    Arid</text>
<text class="q" x="316.7" y="617.4" textLength="59.4" lengthAdjust="spacingAndGlyphs">Hot  Arid</text>
<text class="q" x="116" y="985" textLength="79.1" lengthAdjust="spacingAndGlyphs">Cold Humid</text>
<text class="q" x="319.9" y="985" textLength="76" lengthAdjust="spacingAndGlyphs">Hot  Humid</text>
<text class="bt" transform="translate(96.3,657.2) rotate(-57)" y="6" textLength="55" lengthAdjust="spacingAndGlyphs">Glacial</text>
<text class="bt" transform="translate(338.6,926.3) rotate(-57)" y="6" textLength="92" lengthAdjust="spacingAndGlyphs">Interglacial</text>
<text class="c" x="280.2" y="737" textLength="47.2">Aug-06</text>
<text class="c" x="333.8" y="836.9" textLength="45.2">Feb-05</text>
<text class="c" x="170.7" y="860.8" textLength="45.9">Sep-04</text>
<text class="c" x="340.9" y="867.7" textLength="47.2">May-05</text>
<text class="c" x="172.4" y="898.2" textLength="46.7">Sep-03</text>
<text class="c" x="221.7" y="949.6" textLength="45.4">Feb-06</text>
<text class="c" x="234.3" y="982.7" textLength="46.4">Nov-05</text>

<!-- Panel 4 -->
<text class="t1" x="615.2" y="550.8" textLength="301.8" lengthAdjust="spacingAndGlyphs">Smoothed Monthly Max Temp and Temp</text>
<text class="t1" x="615.8" y="572" textLength="235.2" lengthAdjust="spacingAndGlyphs">Range Anomalies, Manilla NSW</text>
<text class="t3" x="615.5" y="591.2" textLength="145.7" lengthAdjust="spacingAndGlyphs">Sep-2003 to Aug-2006</text>
<text class="ax" x="614.8" y="1032.3" textLength="155.6" lengthAdjust="spacingAndGlyphs">Daily Max Temp Anomaly</text>
<text class="ax" transform="translate(422.1,794.7) rotate(-90)" textLength="137.4" lengthAdjust="spacingAndGlyphs">Temp Range Anomaly</text>
<g class="tk"><text x="465.1" y="1015.3">-2.5°</text><text x="502.5" y="1015.3">-2.0°</text><text x="539.9" y="1015.3">-1.5°</text><text x="577.4" y="1015.3">-1.0°</text><text x="614.8" y="1015.3">-0.5°</text><text x="652.3" y="1015.3">0.0°</text><text x="689.7" y="1015.3">0.5°</text><text x="727.1" y="1015.3">1.0°</text><text x="764.5" y="1015.3">1.5°</text></g>
<g class="tk" text-anchor="end"><text x="453.3" y="603.9">2.0°</text><text x="453.3" y="639.6">1.5°</text><text x="453.3" y="675.3">1.0°</text><text x="453.3" y="710.9">0.5°</text><text x="453.3" y="746.5">0.0°</text><text x="453.3" y="782.2">-0.5°</text><text x="453.3" y="817.8">-1.0°</text><text x="453.3" y="853.5">-1.5°</text><text x="453.3" y="889.1">-2.0°</text><text x="453.3" y="924.8">-2.5°</text><text x="453.3" y="960.4">-3.0°</text><text x="453.3" y="996.1">-3.5°</text></g>
<text class="q" x="520.4" y="617.7" textLength="90.6" lengthAdjust="spacingAndGlyphs">Cold Extreme</text>
<text class="q qb2" x="520.4" y="635.6" textLength="56.1" lengthAdjust="spacingAndGlyphs">(Siberia)</text>
<text class="q" x="729.6" y="617.4" textLength="24" lengthAdjust="spacingAndGlyphs">Hot</text>
<text class="q" x="729.6" y="634.9" textLength="55.4" lengthAdjust="spacingAndGlyphs">Extreme</text>
<text class="q qb2" x="729.6" y="652.5" textLength="51.8" lengthAdjust="spacingAndGlyphs">(Sahara</text>
<text class="q" x="520.4" y="968.4" textLength="92.6" lengthAdjust="spacingAndGlyphs">Cold  Equable</text>
<text class="q qb2" x="520.4" y="986" textLength="89.8" lengthAdjust="spacingAndGlyphs">(Macquarie I.)</text>
<text class="q" x="714.9" y="968.4" textLength="82.4" lengthAdjust="spacingAndGlyphs">Hot Equable</text>
<text class="q qb2" x="714.9" y="986" textLength="52.8" lengthAdjust="spacingAndGlyphs">(Pacific)</text>
<text class="c" x="632.3" y="619" textLength="46.7">Aug-06</text>
<text class="c" x="597.9" y="681.9" textLength="45.2">Jan-05</text>
<text class="c" x="713.7" y="681.9" textLength="45.2">Feb-06</text>
<text class="c" x="558.8" y="738.2" textLength="46.9">Sep-04</text>
<text class="c" x="732.3" y="754.8" textLength="46.4">May-05</text>
<text class="c" x="569.1" y="783.6" textLength="45.7">Sep-03</text>
<text class="c" x="694.5" y="814.8" textLength="45.7">Sep-05</text>

<!-- Panel 5 -->
<text class="t1" x="206" y="1073.2" textLength="284.4" lengthAdjust="spacingAndGlyphs">Smoothed Monthly Max Temp and Min</text>
<text class="t1" x="205.8" y="1093.5" textLength="230.3" lengthAdjust="spacingAndGlyphs">Temp Anomalies, Manilla NSW</text>
<text class="t3" x="206.5" y="1112.8" textLength="146.6" lengthAdjust="spacingAndGlyphs">Sep-2003 to Aug-2006</text>
<text class="ax" x="223.2" y="1559.9" textLength="155.6" lengthAdjust="spacingAndGlyphs">Daily Max Temp Anomaly</text>
<text class="ax" transform="translate(25.4,1316.1) rotate(-90)" textLength="152.4" lengthAdjust="spacingAndGlyphs">Daily Min Temp Anomaly</text>
<g class="tk"><text x="72.7" y="1535.7">-2.5°</text><text x="110.2" y="1535.7">-2.0°</text><text x="147.6" y="1535.7">-1.5°</text><text x="185.1" y="1535.7">-1.0°</text><text x="222.6" y="1535.7">-0.5°</text><text x="260.1" y="1535.7">0.0°</text><text x="297.5" y="1535.7">0.5°</text><text x="335" y="1535.7">1.0°</text><text x="372.5" y="1535.7">1.5°</text></g>
<g class="tk" text-anchor="end"><text x="61.2" y="1125.2">2.5°</text><text x="61.2" y="1174.2">2.0°</text><text x="61.2" y="1223.2">1.5°</text><text x="61.2" y="1272.2">1.0°</text><text x="61.2" y="1321.1">0.5°</text><text x="61.2" y="1370.1">0.0°</text><text x="61.2" y="1419.1">-0.5°</text><text x="61.2" y="1468.1">-1.0°</text><text x="61.2" y="1517.1">-1.5°</text></g>
<text class="q" x="117.1" y="1137.2" textLength="72.2" lengthAdjust="spacingAndGlyphs">Cold  Days</text>
<text class="q" x="117.1" y="1154.5" textLength="70.2" lengthAdjust="spacingAndGlyphs">Hot Nights</text>
<text class="q" x="327.3" y="1137.2" textLength="65.3" lengthAdjust="spacingAndGlyphs">Hot  Days</text>
<text class="q" x="327.3" y="1154.5" textLength="70.4" lengthAdjust="spacingAndGlyphs">Hot Nights</text>
<text class="q" x="119.1" y="1488.1" textLength="72.7" lengthAdjust="spacingAndGlyphs">Cold  Days</text>
<text class="q" x="119.1" y="1505.7" textLength="77.3" lengthAdjust="spacingAndGlyphs">Cold Nights</text>
<text class="q" x="325" y="1488.1" textLength="65" lengthAdjust="spacingAndGlyphs">Hot  Days</text>
<text class="q" x="325" y="1505.7" textLength="77.3" lengthAdjust="spacingAndGlyphs">Cold Nights</text>
<text class="bt" transform="translate(98.2,1190) rotate(-55)" y="6" textLength="58" lengthAdjust="spacingAndGlyphs">Maritime</text>
<text class="bt" transform="translate(338.6,1428) rotate(-55)" y="6" textLength="82" lengthAdjust="spacingAndGlyphs">Continental</text>
<text class="c" x="250.6" y="1280.5" textLength="46.4">Sep-05</text>
<text class="c" x="339.4" y="1280.5" textLength="44.1">Apr-05</text>
<text class="c" x="176.7" y="1321.1" textLength="44.6">Feb-06</text>
<text class="c" x="165.4" y="1371.3" textLength="44.6">Jan-04</text>
<text class="c" x="165.4" y="1414.3" textLength="45.9">Sep-03</text>
<text class="c" x="207" y="1453.9" textLength="44.6">Jan-05</text>
<text class="c" x="199.4" y="1500.7" textLength="47.7">Aug-06</text>

<!-- Panel 6 -->
<text class="t1" x="603" y="1073.2" textLength="253.3" lengthAdjust="spacingAndGlyphs">Smoothed Monthly Max Temp and</text>
<text class="t1" x="603.3" y="1094.5" textLength="290.8" lengthAdjust="spacingAndGlyphs">Subsoil Temp Anomalies, Manilla NSW</text>
<text class="t3" x="603.7" y="1113.9" textLength="146.2" lengthAdjust="spacingAndGlyphs">Sep-2003 to Aug-2006</text>
<text class="ax" x="613.9" y="1559.9" textLength="156.4" lengthAdjust="spacingAndGlyphs">Daily Max Temp Anomaly</text>
<text class="ax" transform="translate(422.1,1320.4) rotate(-90)" textLength="140.6" lengthAdjust="spacingAndGlyphs">Subsoil Temp Anomaly</text>
<g class="tk"><text x="464.3" y="1535.7">-2.5°</text><text x="501.6" y="1535.7">-2.0°</text><text x="538.9" y="1535.7">-1.5°</text><text x="576.2" y="1535.7">-1.0°</text><text x="613.5" y="1535.7">-0.5°</text><text x="650.8" y="1535.7">0.0°</text><text x="688.2" y="1535.7">0.5°</text><text x="725.5" y="1535.7">1.0°</text><text x="762.8" y="1535.7">1.5°</text></g>
<g class="tk" text-anchor="end"><text x="452.8" y="1133.3">3.0°</text><text x="452.8" y="1176">2.5°</text><text x="452.8" y="1218.6">2.0°</text><text x="452.8" y="1261.3">1.5°</text><text x="452.8" y="1303.9">1.0°</text><text x="452.8" y="1346.6">0.5°</text><text x="452.8" y="1389.2">0.0°</text><text x="452.8" y="1431.8">-0.5°</text><text x="452.8" y="1474.5">-1.0°</text><text x="452.8" y="1517.1">-1.5°</text></g>
<text class="q" x="505.5" y="1146" textLength="68.9" lengthAdjust="spacingAndGlyphs">Cold Days</text>
<text class="q" x="505.5" y="1163.6" textLength="54.3" lengthAdjust="spacingAndGlyphs">Hot Soil</text>
<text class="q" x="720.7" y="1146" textLength="61.7" lengthAdjust="spacingAndGlyphs">Hot Days</text>
<text class="q" x="720.7" y="1163.6" textLength="53.6" lengthAdjust="spacingAndGlyphs">Hot Soil</text>
<text class="q" x="508.1" y="1488.1" textLength="72.2" lengthAdjust="spacingAndGlyphs">Cold  Days</text>
<text class="q" x="508.1" y="1505.7" textLength="61.2" lengthAdjust="spacingAndGlyphs">Cold Soil</text>
<text class="q" x="720.9" y="1488.1" textLength="65.6" lengthAdjust="spacingAndGlyphs">Hot  Days</text>
<text class="q" x="720.9" y="1505.7" textLength="60.7" lengthAdjust="spacingAndGlyphs">Cold Soil</text>
<text class="c" x="613.9" y="1312.7" textLength="43.4">Jan-04</text>
<text class="c" x="696.2" y="1306.9" textLength="46.4">Aug-06</text>
<text class="c" x="730.9" y="1346.2" textLength="44.6">Feb-06</text>
<text class="c" x="557.7" y="1383.8" textLength="46.4">Sep-04</text>
<text class="c" x="730.9" y="1418.7" textLength="43.6">Apr-05</text>
<text class="c" x="557.3" y="1442.1" textLength="46.2">Sep-03</text>
<text class="c" x="636.8" y="1473.6" textLength="44.1">Jan-05</text>
</g>
</svg>
</body></html>
